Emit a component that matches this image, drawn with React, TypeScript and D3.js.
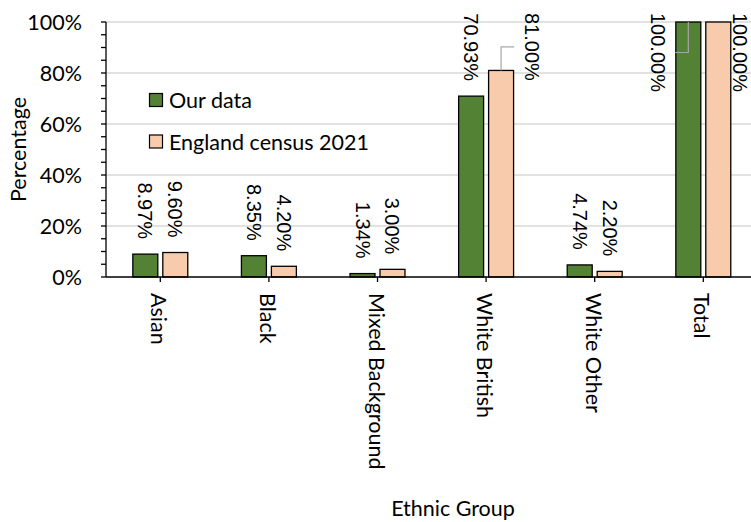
import React from 'react';
import * as d3 from 'd3';

const categories = ['Asian', 'Black', 'Mixed Background', 'White British', 'White Other', 'Total'];
const seriesNames = ['Our data', 'England census 2021'];
const ourData = [0.0897, 0.0835, 0.0134, 0.7093, 0.0474, 1.0];
const censusData = [0.096, 0.042, 0.03, 0.81, 0.022, 1.0];
const ourLabels = ['8.97%', '8.35%', '1.34%', '70.93%', '4.74%', '100.00%'];
const censusLabels = ['9.60%', '4.20%', '3.00%', '81.00%', '2.20%', '100.00%'];
const yTickValues = [0, 0.2, 0.4, 0.6, 0.8, 1.0];
const yTickLabels = ['0%', '20%', '40%', '60%', '80%', '100%'];

const W = 751;
const H = 522;
const M = { left: 106, right: 757.6, top: 22, bottom: 277 };
const COLORS = ['#548235', '#F8CBAD'];
const AXIS_FONT = 'Lato, "Open Sans", sans-serif';
const AXIS_SIZE = 21.5;
const LABEL_FONT = '"Liberation Sans", Arial, sans-serif';
const LABEL_SIZE = 20;

let ctx: CanvasRenderingContext2D | null = null;
function textWidth(t: string, font: string) {
  if (!ctx) ctx = document.createElement('canvas').getContext('2d');
  if (!ctx) return t.length * 10;
  ctx.font = font;
  return ctx.measureText(t).width;
}

export default function App() {
  const x0 = d3
    .scaleBand<string>()
    .domain(categories)
    .range([M.left, M.right])
    .paddingInner(0.494)
    .paddingOuter(0.247);
  const x1 = d3
    .scaleBand<string>()
    .domain(seriesNames)
    .range([0, x0.bandwidth()])
    .paddingInner(1 / 6)
    .paddingOuter(0);
  const y = d3.scaleLinear().domain([0, 1]).range([M.bottom, M.top]);
  const minorTicks = y.ticks(25);

  const series = [ourData, censusData];
  const labels = [ourLabels, censusLabels];
  const half = LABEL_SIZE * 0.42;

  const bars: any[] = [];
  const texts: any[] = [];
  const leaders: any[] = [];
  series.forEach((vals, si) => {
    vals.forEach((v, ci) => {
      const bx = (x0(categories[ci]) as number) + (x1(seriesNames[si]) as number);
      const bw = x1.bandwidth();
      const by = y(v);
      bars.push(
        <rect key={`b${si}-${ci}`} x={bx} y={by} width={bw} height={M.bottom - by}
          fill={COLORS[si]} stroke="#000" strokeWidth={1.3} />
      );
      const label = labels[si][ci];
      const len = textWidth(label, `${LABEL_SIZE}px ${LABEL_FONT}`);
      const cx = bx + bw / 2;
      const naturalEnd = by - 15;
      const naturalTop = naturalEnd - len;
      if (naturalTop >= 5) {
        texts.push(
          <text key={`t${si}-${ci}`} transform={`translate(${cx},${naturalEnd}) rotate(90)`}
            textAnchor="end" dominantBaseline="central" fontFamily={LABEL_FONT}
            fontSize={LABEL_SIZE} fill="#000">{label}</text>
        );
      } else {
        const top = 13;
        const dir = si === 0 ? -1 : 1;
        let lx = cx + dir * (x0.bandwidth() * 0.5 + 3);
        lx = Math.min(lx, W - half - 3);
        texts.push(
          <text key={`t${si}-${ci}`} transform={`translate(${lx},${top}) rotate(90)`}
            textAnchor="start" dominantBaseline="central" fontFamily={LABEL_FONT}
            fontSize={LABEL_SIZE} fill="#000">{label}</text>
        );
        if (Math.abs(lx - cx) > 25) {
          const ym = top + len / 2;
          const ex = lx - dir * (half + 9);
          leaders.push(
            <path key={`l${si}-${ci}`} d={`M${cx},${by}V${ym}H${ex}`} fill="none"
              stroke="#A6A6A6" strokeWidth={1.2} />
          );
        }
      }
    });
  });

  return (
    <svg width={W} height={H} style={{ position: 'absolute', left: 0, top: 0, display: 'block', background: '#fff' }}>
      <rect x={0} y={0} width={W} height={H} fill="#fff" />
      {yTickValues.slice(1).map((t) => (
        <line key={`g${t}`} x1={M.left} x2={M.right} y1={y(t)} y2={y(t)} stroke="#D9D9D9" strokeWidth={1.3} />
      ))}
      {bars}
      {leaders}
      {texts}
      {/* y axis */}
      <line x1={M.left} x2={M.left} y1={M.top} y2={M.bottom} stroke="#000" strokeWidth={1.3} />
      {minorTicks.map((t) => (
        <line key={`yt${t}`} x1={M.left - 5} x2={M.left} y1={y(t)} y2={y(t)} stroke="#000" strokeWidth={1.3} />
      ))}
      {yTickValues.map((t, i) => (
        <text key={`yl${t}`} x={82} y={y(t)} textAnchor="end" dominantBaseline="central"
          fontFamily={AXIS_FONT} fontSize={AXIS_SIZE} fill="#000">{yTickLabels[i]}</text>
      ))}
      {/* x axis */}
      <line x1={M.left} x2={M.right} y1={M.bottom} y2={M.bottom} stroke="#000" strokeWidth={1.3} />
      {categories.map((c) => {
        const cx = (x0(c) as number) + x0.bandwidth() / 2;
        return (
          <g key={`xc${c}`}>
            <line x1={cx} x2={cx} y1={M.bottom} y2={M.bottom + 5} stroke="#000" strokeWidth={1.3} />
            <text transform={`translate(${cx - 1},${293}) rotate(90)`} textAnchor="start"
              dominantBaseline="central" fontFamily={AXIS_FONT} fontSize={AXIS_SIZE} fill="#000">{c}</text>
          </g>
        );
      })}
      <text transform={`translate(${18},${(M.top + M.bottom) / 2}) rotate(-90)`} textAnchor="middle"
        dominantBaseline="central" fontFamily={AXIS_FONT} fontSize={AXIS_SIZE} fill="#000">Percentage</text>
      <text x={453} y={516} textAnchor="middle" fontFamily={AXIS_FONT} fontSize={AXIS_SIZE} fill="#000">Ethnic Group</text>
      {/* legend */}
      {seriesNames.map((s, i) => (
        <g key={`lg${s}`}>
          <rect x={149.5} y={93.5 + i * 41.5} width={13} height={13} fill={COLORS[i]} stroke="#000" strokeWidth={1.2} />
          <text x={169} y={100 + i * 41.5} dominantBaseline="central" fontFamily={AXIS_FONT}
            fontSize={AXIS_SIZE} fill="#000">{s}</text>
        </g>
      ))}
    </svg>
  );
}
